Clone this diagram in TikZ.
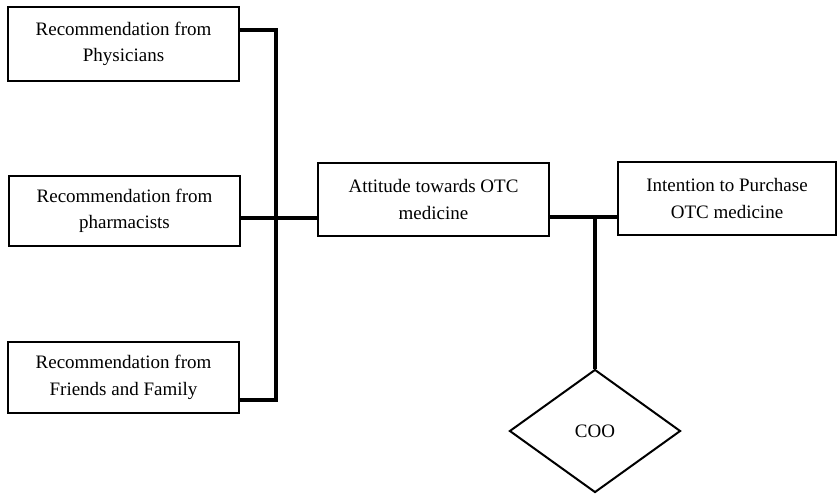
\documentclass[tikz,border=0pt]{standalone}
\usepackage{fontspec}
\setmainfont{Liberation Serif}
\usepackage{tikz}
\usetikzlibrary{shapes,shapes.geometric,positioning,calc}

\begin{document}
\begin{tikzpicture}[
    x=1pt, y=-1pt,
    font=\fontsize{19}{26.5}\selectfont,
    factor/.style={rectangle, draw, line width=1.5pt, inner sep=0pt, align=center},
    moderator/.style={diamond, draw, line width=2pt, inner sep=0pt, aspect=1.39},
    link/.style={line width=4pt}
]
    \useasboundingbox (0,0) rectangle (837,494);

    % Sources of recommendation
    \node[factor, minimum width=231, minimum height=74] (phys) at (123.5,44) {Recommendation from\\Physicians};
    \node[factor, minimum width=231, minimum height=70] (pharm) at (124.5,211) {Recommendation from\\pharmacists};
    \node[factor, minimum width=231, minimum height=71] (fam) at (123.5,377.5) {Recommendation from\\Friends and Family};

    % Attitude and intention
    \node[factor, minimum width=231, minimum height=73] (att) at (433.5,199.5) {Attitude towards OTC\\medicine};
    \node[factor, minimum width=218, minimum height=73] (intent) at (727,198.5) {Intention to Purchase\\OTC medicine};

    % Moderator
    \node[moderator, minimum width=171, minimum height=123] (coo) at (595,431) {COO};

    % Bus and joints
    \coordinate (bustop) at (276,30);
    \coordinate (busbot) at (276,400);
    \coordinate (hub) at (276,218);
    \coordinate (tee) at (595,217);

    \draw[link] (phys.east |- bustop) -- (bustop) -- (busbot) -- (fam.east |- busbot);
    \draw[link] (pharm.east |- hub) -- (att.west |- hub);
    \draw[link] (att.east |- tee) -- (intent.west |- tee);
    \draw[link] (tee) -- (coo.north);

\end{tikzpicture}
\end{document}
